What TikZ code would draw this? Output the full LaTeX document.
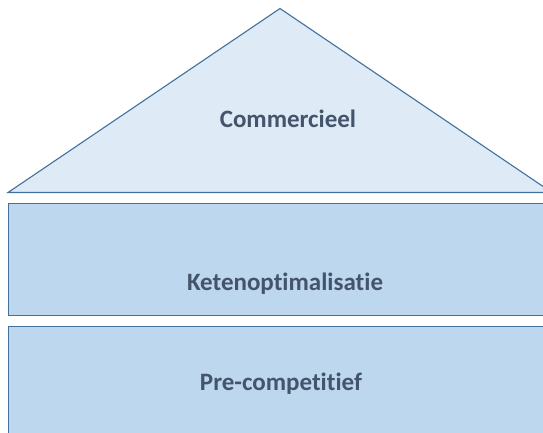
\documentclass[tikz,border=0pt]{standalone}
\usepackage{fontspec}
\setmainfont[Ligatures=CommonOff]{Carlito}

\definecolor{roofblue}{HTML}{DEEAF6}
\definecolor{layerblue}{HTML}{BDD7EE}
\definecolor{edgeblue}{HTML}{41719C}
\definecolor{labelgrey}{HTML}{44546A}

\tikzset{
	layer/.style={draw=edgeblue, fill=layerblue, line width=1.1pt},
	roof/.style={draw=edgeblue, fill=roofblue, line width=1.1pt, line join=miter},
	tag/.style={text=labelgrey, font=\bfseries\fontsize{25}{30}\selectfont}
}

\begin{document}
\begin{tikzpicture}[x=1pt, y=-1pt]
	\useasboundingbox (0,0) rectangle (543,432);

	\coordinate (R0) at (8,192.5);
	\coordinate (R1) at (280,8.5);
	\coordinate (R2) at (552,192.5);

	\draw [roof] (R0) -- (R1) -- (R2) -- cycle;
	\draw [layer] (8.5,203.5) rectangle (560,315.5);
	\draw [layer] (8.5,326.5) rectangle (560,445);

	\node [tag] (C) at (288,119) {Commercieel};
	\node [tag] (K) at (285,284) {Ketenoptimalisatie};
	\node [tag] (P) at (281,384) {Pre-competitief};

\end{tikzpicture}
\end{document}
